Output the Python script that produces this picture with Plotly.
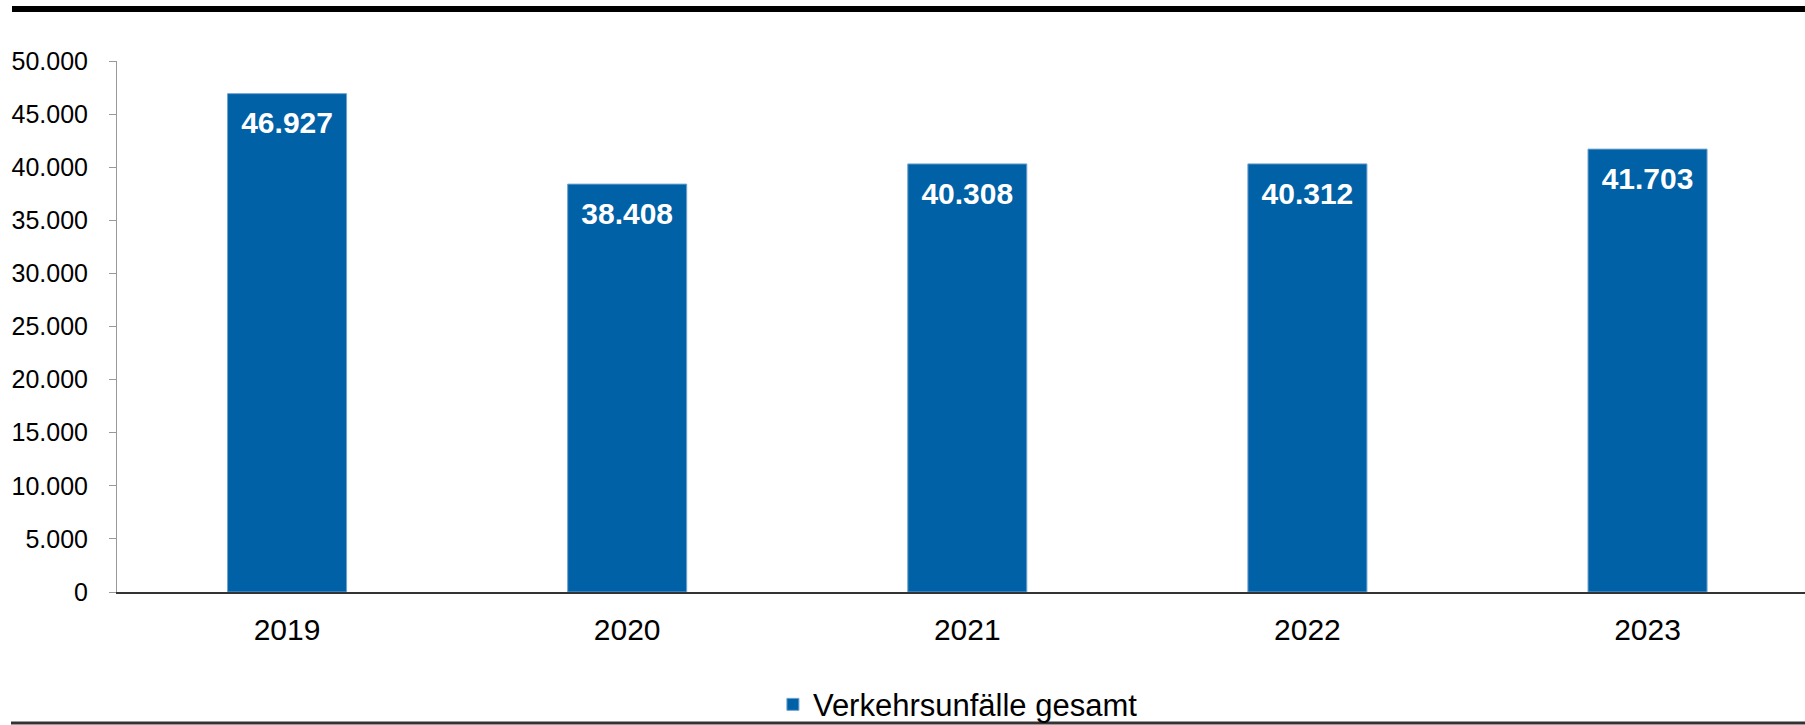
import plotly.graph_objects as go

years = ["2019", "2020", "2021", "2022", "2023"]
unfaelle = [46927, 38408, 40308, 40312, 41703]
series_name = "Verkehrsunfälle gesamt"
y_ticks = [0, 5000, 10000, 15000, 20000, 25000, 30000, 35000, 40000, 45000, 50000]

W, H = 1805, 725
L, R, T, B = 117, 0, 61, 133
FONT = "Liberation Sans, Arial, sans-serif"
BLUE = "#0061A7"

fig = go.Figure()
fig.add_trace(go.Bar(
    x=years, y=unfaelle, name=series_name, width=0.35,
    marker=dict(color=BLUE, line=dict(color="#6FA3D0", width=1)),
    showlegend=True,
))
# value labels inside the top of each bar
fig.add_trace(go.Scatter(
    x=years, y=unfaelle, mode="markers+text",
    marker=dict(size=26, opacity=0, color=BLUE),
    texttemplate="<b>%{y:,d}</b>", textposition="bottom center",
    textfont=dict(family=FONT, size=30, color="white"),
    showlegend=False, hoverinfo="skip", cliponaxis=False,
))

fig.update_layout(
    width=W, height=H,
    margin=dict(l=L, r=R, t=T, b=B, pad=0),
    paper_bgcolor="white", plot_bgcolor="white",
    separators=",.",
    font=dict(family=FONT, color="black"),
    showlegend=True,
    legend=dict(
        orientation="h", xref="container", yref="container",
        x=0.5307, xanchor="center", y=0.028, yanchor="middle",
        font=dict(family=FONT, size=31, color="black"),
        itemwidth=30, bgcolor="rgba(0,0,0,0)",
    ),
    xaxis=dict(
        type="category", range=[-0.5, 4.463],
        showline=True, linecolor="#333333", linewidth=1.5,
        ticks="", showgrid=False, zeroline=False,
        tickfont=dict(family=FONT, size=30, color="black"),
        ticklabelstandoff=10,
    ),
    yaxis=dict(
        range=[0, 50000], tickvals=y_ticks, tickformat=",d",
        showline=True, linecolor="#999999", linewidth=1,
        ticks="outside", ticklen=7, tickcolor="#999999", tickwidth=1,
        showgrid=False, zeroline=False,
        tickfont=dict(family=FONT, size=25, color="black"),
        ticklabelstandoff=16,
    ),
    shapes=[
        dict(type="line", xref="paper", yref="paper",
             x0=-105/1688, x1=1, y0=1 + 52/531, y1=1 + 52/531,
             line=dict(color="black", width=6)),
        dict(type="line", xref="paper", yref="paper",
             x0=-106/1688, x1=1, y0=-131/531, y1=-131/531,
             line=dict(color="#333333", width=3)),
    ],
)

fig.write_html("out.html", config={"displayModeBar": False},
               post_script="document.body.style.margin='0px';document.body.style.overflow='hidden';")
